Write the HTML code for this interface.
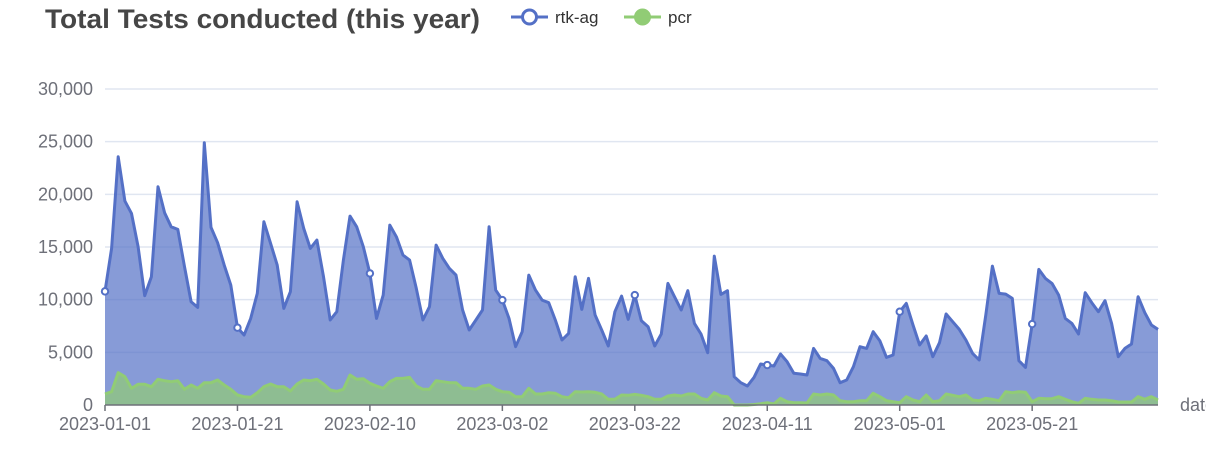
<!DOCTYPE html>
<html><head><meta charset="utf-8"><style>
body{margin:0;background:#fff;width:1206px;height:450px;overflow:hidden;font-family:"Liberation Sans",sans-serif}
svg{display:block}
</style></head><body>
<svg id="chart" width="1206" height="450" xmlns="http://www.w3.org/2000/svg">
<text x="45" y="28" font-size="27" font-weight="bold" fill="#464646" textLength="435" lengthAdjust="spacingAndGlyphs">Total Tests conducted (this year)</text>
<g>
<line x1="511" y1="17" x2="548" y2="17" stroke="#5470c6" stroke-width="3"/>
<circle cx="529.5" cy="17" r="7" fill="#fff" stroke="#5470c6" stroke-width="3"/>
<text x="555" y="23" font-size="17" fill="#333">rtk-ag</text></g>
<g>
<line x1="624" y1="17" x2="661" y2="17" stroke="#91cc75" stroke-width="3"/>
<circle cx="642.5" cy="17" r="7" fill="#91cc75" stroke="#91cc75" stroke-width="3"/>
<text x="668" y="23" font-size="17" fill="#333">pcr</text></g>
<g id="grid"></g><g id="areas"></g><g id="xaxis"></g>
<text x="1180" y="411" font-size="18" fill="#6e7079">date</text>
</svg>
<script>
const rtkAg=[10786,14866,23564,19358,18187,15024,10375,12178,20718,18250,16922,16669,13126,9805,9268,24893,16859,15404,13285,11387,7338,6642,8224,10596,17397,15341,13285,9173,10754,19294,16764,14866,15657,12178,8066,8857,13759,17934,16922,15024,12494,
8224,10438,17080,15973,14234,13759,11071,8066,9331,15182,13917,12968,12336,9015,7117,8066,9015,16922,10912,9963,8224,5535,6959,12336,10912,9963,9710,8066,6168,6800,12178,9078,12019,8540,7117,5599,8857,10343,8129,10438,
8002,7433,5599,6737,11545,10280,9015,10849,7749,6737,4966,14139,10501,10849,2689,2119,1803,2625,3890,3796,3701,4839,4112,3005,2942,2847,5377,4428,4207,3479,2119,2372,3637,5535,5377,6959,6105,4523,4745,8857,
9647,7591,5693,6547,4586,5915,8635,7908,7180,6168,4903,4270,8540,13190,10596,10533,10122,4207,3574,7686,12873,12019,11545,10438,8224,7749,6737,10659,9710,8857,9900,7749,4586,5377,5788,10280,8762,7591,7180];
const pcr=[1044,1265,3068,2689,1582,1961,1961,1740,2436,2309,2214,2309,1487,1898,1582,2119,2119,2372,1898,1487,949,791,727,1170,1740,1993,1740,1740,1328,1993,2372,2309,2436,1993,1423,1297,1487,2847,2436,2499,2056,
1803,1582,2214,2530,2530,2625,1803,1487,1487,2309,2214,2119,2119,1582,1582,1487,1803,1898,1487,1265,1202,791,791,1582,1044,1044,1170,1107,791,696,1265,1234,1265,1202,1044,538,538,949,917,1012,
917,791,538,538,854,949,854,1044,1044,633,474,1170,854,791,0,0,0,50,127,221,95,633,316,221,221,190,1044,949,1044,949,411,316,316,411,411,1107,791,411,316,221,
791,474,316,949,316,411,1044,917,791,949,474,411,633,538,411,1265,1170,1265,1202,316,633,601,601,791,538,316,158,633,538,474,474,411,285,285,285,791,538,791,474];
const yTicks=[0,5000,10000,15000,20000,25000,30000];
const yTickLabels=["0","5,000","10,000","15,000","20,000","25,000","30,000"];
const start=new Date(Date.UTC(2023,0,1));
const dates=rtkAg.map((_,i)=>{const d=new Date(start.getTime()+i*86400000);return d.toISOString().slice(0,10);});
const X0=105,X1=1158,Y0=405,Y1=89,YMAX=30000;
const xs=i=>X0+(X1-X0)*i/(dates.length-1);
const ys=v=>Y0-(Y0-Y1)*v/YMAX;
const NS="http://www.w3.org/2000/svg";
function mk(t,a,p){const e=document.createElementNS(NS,t);for(const k in a)e.setAttribute(k,a[k]);p.appendChild(e);return e;}
const grid=document.getElementById('grid');
yTicks.forEach((t,i)=>{
 if(t>0){const l=mk('line',{x1:X0,x2:X1,y1:ys(t),y2:ys(t),stroke:'#e0e6f1','stroke-width':1.5},grid);
 
 }
 const tx=mk('text',{x:93,y:ys(t)+6,'text-anchor':'end','font-size':18,fill:'#6e7079'},grid);
 tx.textContent=yTickLabels[i];
 
 
});
const areas=document.getElementById('areas');
function series(vals,color,name,symbols){
 let pts=vals.map((v,i)=>xs(i).toFixed(1)+','+ys(v).toFixed(1));
 const a=mk('path',{d:'M'+X0+','+Y0+' L'+pts.join(' L')+' L'+X1+','+Y0+'Z',fill:color,'fill-opacity':0.7},areas);
 
 
 const l=mk('path',{d:'M'+pts.join(' L'),fill:'none',stroke:color,'stroke-width':3,'stroke-linejoin':'round'},areas);
 
 
 if(symbols){for(let i=0;i<vals.length;i+=20){const c=mk('circle',{cx:xs(i),cy:ys(vals[i]),r:3.2,fill:'#fff',stroke:color,'stroke-width':2},areas);
 
 }}
}
series(rtkAg,'#5470c6','rtk-ag',true);
series(pcr,'#91cc75','pcr',false);
const xa=document.getElementById('xaxis');
const ax=mk('line',{x1:X0,x2:X1,y1:Y0,y2:Y0,stroke:'#6e7079','stroke-width':1.5},xa);


for(let i=0;i<dates.length;i+=20){
 const tk=mk('line',{x1:xs(i),x2:xs(i),y1:Y0,y2:Y0+6,stroke:'#6e7079','stroke-width':1.5},xa);
 
 
 const t=mk('text',{x:xs(i),y:Y0+25,'text-anchor':'middle','font-size':18,fill:'#6e7079'},xa);
 t.textContent=dates[i];
 
 
}
</script>
</body></html>
